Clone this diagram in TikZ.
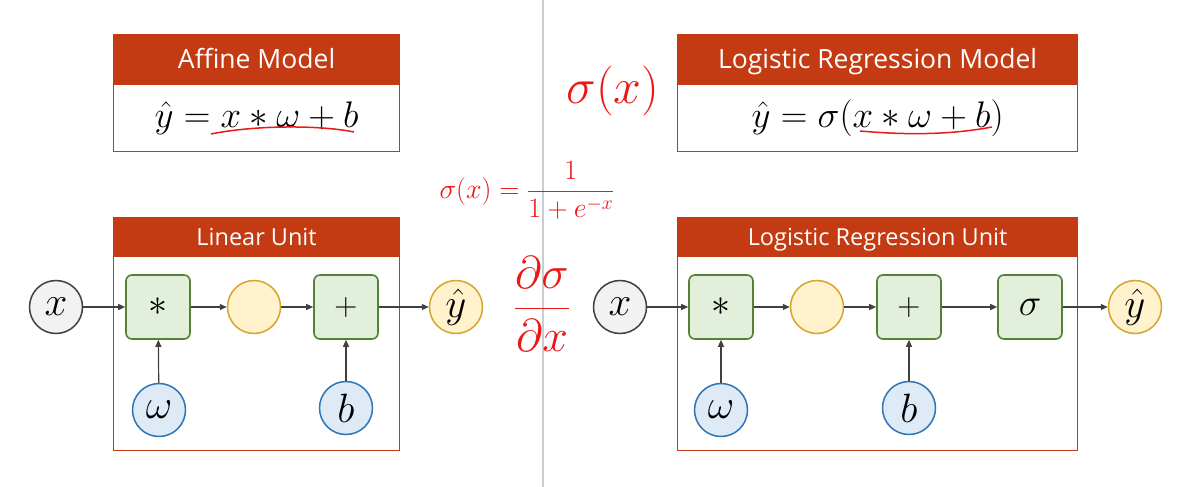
\RequirePackage{fix-cm}
\documentclass[tikz,border=0pt]{standalone}
\usepackage{amsmath}
\usepackage{fontspec}
\setsansfont{Open Sans}
\usetikzlibrary{arrows.meta,positioning}
\definecolor{hdrred}{RGB}{196,58,18}
\definecolor{opfill}{RGB}{226,239,218}
\definecolor{opline}{RGB}{84,130,53}
\definecolor{valfill}{RGB}{255,242,204}
\definecolor{valline}{RGB}{214,166,44}
\definecolor{parfill}{RGB}{222,235,247}
\definecolor{parline}{RGB}{46,117,182}
\definecolor{inpfill}{RGB}{242,242,242}
\definecolor{inpline}{RGB}{64,64,64}
\definecolor{ink}{RGB}{236,24,24}
\definecolor{sepgray}{RGB}{204,204,204}

\begin{document}
\begin{tikzpicture}[x=1pt,y=-1pt,
    hdr/.style={fill=hdrred,draw=hdrred,line width=1.2pt,text=white,inner sep=0pt,
      anchor=north west,text height=24pt,text depth=5pt,
      font=\sffamily\fontsize{26.5}{30}\selectfont},
    unithdr/.style={hdr,text height=21.7pt,text depth=5pt,
      font=\sffamily\fontsize{23.5}{27}\selectfont},
    eqbox/.style={draw=hdrred,fill=white,line width=1.2pt,inner sep=0pt,
      font=\fontsize{37}{37}\selectfont},
    frame/.style={draw=hdrred,line width=1.2pt,inner sep=0pt,anchor=north west},
    op/.style={rectangle,rounded corners=6pt,draw=opline,fill=opfill,line width=1.6pt,
      minimum size=64pt,inner sep=0pt,font=\fontsize{38}{38}\selectfont},
    plus/.style={op,font=\fontsize{32}{32}\selectfont},
    val/.style={circle,draw=valline,fill=valfill,line width=1.5pt,minimum size=53pt,
      inner sep=0pt,font=\fontsize{41}{41}\selectfont},
    par/.style={val,draw=parline,fill=parfill},
    inp/.style={val,draw=inpline,fill=inpfill},
    arr/.style={-{Triangle[length=7pt,width=6pt]},line width=1.2pt,draw=inpline},
    ink/.style={text=ink,inner sep=0pt},
    inkline/.style={draw=ink,line width=1.5pt}]
  \fill[white] (0,0) rectangle (1186,487);
  \useasboundingbox (0,0) rectangle (1186,487);
  \draw[sepgray,line width=1.5pt] (543,0) -- (543,487);

  % models
  \node[hdr,minimum width=286pt,minimum height=49pt] (affHead) at (113,34) {Affine Model};
  \node[eqbox,minimum width=286pt,minimum height=67pt,below=0pt of affHead] (affBody)
    {$\hat{y} = x * \omega + b$};
  \node[hdr,minimum width=400pt,minimum height=49pt] (logHead) at (677,34) {Logistic Regression Model};
  \node[eqbox,minimum width=400pt,minimum height=67pt,below=0pt of logHead] (logBody)
    {$\hat{y} = \sigma(x * \omega + b)$};

  % linear unit
  \node[frame,minimum width=286pt,minimum height=233pt] (linFrame) at (113,217) {};
  \node[unithdr,minimum width=286pt,minimum height=39pt] (linHead) at (113,217) {Linear Unit};
  \node[inp] (x1) at (56,307) {$x$};
  \node[op] (mul1) at (158,307) {$*$};
  \node[val] (s1) at (254,307) {};
  \node[plus] (add1) at (346,307) {$+$};
  \node[val] (y1) at (456,307) {$\hat{y}$};
  \node[par] (w1) at (159,410) {$\omega$};
  \node[par] (b1) at (346,408) {$b$};
  \draw[arr] (x1) -- (mul1);
  \draw[arr] (mul1) -- (s1);
  \draw[arr] (s1) -- (add1);
  \draw[arr] (add1) -- (y1);
  \draw[arr] (w1) -- (mul1);
  \draw[arr] (b1) -- (add1);

  % logistic regression unit
  \node[frame,minimum width=400pt,minimum height=233pt] (logFrame) at (677,217) {};
  \node[unithdr,minimum width=400pt,minimum height=39pt] (logUHead) at (677,217) {Logistic Regression Unit};
  \node[inp] (x2) at (620,307) {$x$};
  \node[op] (mul2) at (721,307) {$*$};
  \node[val] (s2) at (817,307) {};
  \node[plus] (add2) at (909,307) {$+$};
  \node[op] (sig2) at (1030,307) {$\sigma$};
  \node[val] (y2) at (1135,307) {$\hat{y}$};
  \node[par] (w2) at (721,410) {$\omega$};
  \node[par] (b2) at (909,408) {$b$};
  \draw[arr] (x2) -- (mul2);
  \draw[arr] (mul2) -- (s2);
  \draw[arr] (s2) -- (add2);
  \draw[arr] (add2) -- (sig2);
  \draw[arr] (sig2) -- (y2);
  \draw[arr] (w2) -- (mul2);
  \draw[arr] (b2) -- (add2);

  % red notes
  \node[ink,font=\fontsize{50}{50}\selectfont] (sigx) at (613,91) {$\sigma(x)$};
  \node[ink,font=\fontsize{28}{28}\selectfont] (sigdef) at (527,190) {$\sigma(x)=\dfrac{1}{1+e^{-x}}$};
  \node[ink,font=\fontsize{46}{46}\selectfont] (dsig) at (542,304) {$\dfrac{\partial\sigma}{\partial x}$};
  \draw[inkline] (211,134) .. controls (255,125) and (320,125) .. (354,132);
  \draw[inkline] (860,131) .. controls (905,135) and (950,135) .. (992,127);
\end{tikzpicture}
\end{document}
